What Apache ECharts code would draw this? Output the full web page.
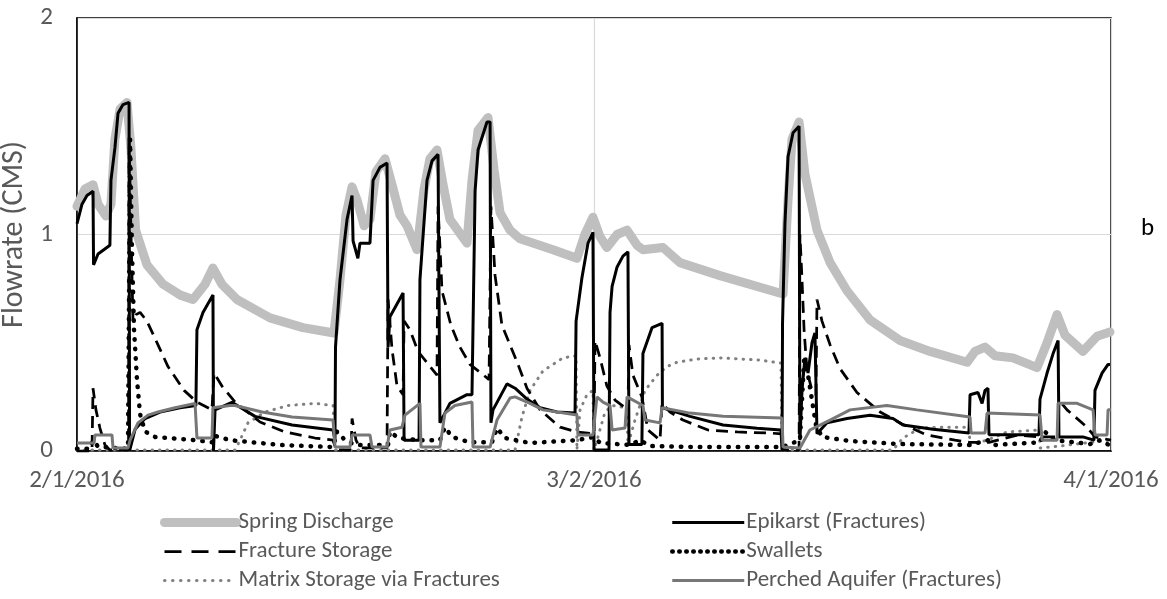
<!DOCTYPE html>
<html>
<head>
<meta charset="utf-8">
<script src="https://cdn.jsdelivr.net/npm/echarts@6/dist/echarts.min.js"></script>
<style>html,body{margin:0;padding:0;background:#fff;}#c{width:1167px;height:599px;}</style>
</head>
<body>
<div id="c"></div>
<script>
// x = days since 2/1/2016, y = flowrate (CMS)
var tickLabels = ['2/1/2016', '3/2/2016', '4/1/2016'];

var springDischarge = [[0,1.13],[0.46,1.21],[0.93,1.23],[1.22,1.14],[1.68,1.085],[1.97,1.14],[2.2,1.44],[2.5,1.58],[2.9,1.61],[3.13,1.4],[3.4,1.02],[4.06,0.86],[5.0,0.77],[6.0,0.72],[6.73,0.70],[7.43,0.77],[7.89,0.845],[8.41,0.77],[9.28,0.70],[11.2,0.615],[13.11,0.57],[14.91,0.545],[15.26,0.79],[15.61,1.09],[15.96,1.22],[16.25,1.16],[16.66,1.04],[17.0,1.07],[17.35,1.29],[17.87,1.35],[18.28,1.23],[18.74,1.09],[19.15,1.04],[19.73,0.93],[20.14,1.21],[20.48,1.35],[20.89,1.39],[21.24,1.23],[21.64,1.07],[22.63,0.96],[22.92,1.25],[23.27,1.48],[23.85,1.54],[24.2,1.30],[24.55,1.10],[25.13,1.02],[25.71,0.98],[27.62,0.93],[29.01,0.89],[29.47,1.0],[29.94,1.08],[30.35,0.99],[30.75,0.94],[31.34,1.0],[31.92,1.02],[32.5,0.95],[32.84,0.93],[34.0,0.94],[34.99,0.87],[37.31,0.81],[40.97,0.725],[41.26,1.16],[41.49,1.44],[41.9,1.52],[42.24,1.28],[42.94,1.02],[43.7,0.87],[44.68,0.74],[46.02,0.605],[47.76,0.51],[49.5,0.46],[51.65,0.41],[52.11,0.46],[52.69,0.48],[53.27,0.44],[54.31,0.43],[55.71,0.385],[56.29,0.50],[56.87,0.63],[57.33,0.535],[58.37,0.46],[59.19,0.53],[59.94,0.55]];

var epikarst = [[0,1.05],[0.29,1.14],[0.58,1.18],[0.93,1.20],[0.96,0.86],[1.22,0.91],[1.91,0.95],[1.97,1.25],[2.2,1.40],[2.38,1.56],[2.67,1.60],[3.02,1.61],[3.05,0],[3.37,0.10],[3.95,0.15],[4.82,0.18],[5.98,0.20],[6.9,0.21],[6.96,0.56],[7.31,0.64],[7.89,0.72],[7.92,0],[8.01,0.19],[8.99,0.225],[10.33,0.16],[12.48,0.12],[14.86,0.097],[14.97,0.05],[15.0,0.48],[15.26,0.79],[15.67,1.07],[15.96,1.18],[16.02,0.97],[16.3,0.89],[16.42,0.96],[17.0,0.96],[17.18,1.25],[17.58,1.31],[17.99,1.33],[18.05,0.48],[18.16,0.62],[18.92,0.73],[18.98,0.05],[19.85,0.05],[19.9,0.79],[20.31,1.25],[20.6,1.34],[20.95,1.37],[21.06,0.13],[21.64,0.22],[22.63,0.26],[22.92,0.26],[23.1,1.2],[23.27,1.39],[23.79,1.52],[23.97,1.52],[24.02,0.13],[24.14,0.19],[24.95,0.31],[25.42,0.29],[26.11,0.24],[26.87,0.20],[27.85,0.18],[28.9,0.175],[28.96,0.6],[29.3,0.8],[29.65,0.96],[29.94,1.01],[30.0,0.005],[30.87,0.005],[30.93,0.64],[31.05,0.76],[31.34,0.85],[31.68,0.9],[31.97,0.92],[32.03,0.03],[32.78,0.03],[32.84,0.45],[33.37,0.57],[33.95,0.59],[33.97,0.2],[35.57,0.16],[37.49,0.12],[39.46,0.105],[40.85,0.097],[40.91,0.005],[40.94,0.59],[41.08,1.05],[41.26,1.36],[41.55,1.47],[41.9,1.5],[41.95,0.05],[42.07,0.28],[42.24,0.43],[42.42,0.36],[42.65,0.5],[42.82,0.545],[42.94,0.08],[43.52,0.13],[44.68,0.15],[46.02,0.165],[47.35,0.15],[47.93,0.12],[49.67,0.1],[51.76,0.083],[51.82,0.26],[52.28,0.27],[52.52,0.22],[52.69,0.28],[52.86,0.29],[52.92,0.075],[55.82,0.075],[55.88,0.24],[56.29,0.36],[56.64,0.45],[56.93,0.51],[56.98,0.065],[58.37,0.065],[59.01,0.05],[59.07,0.28],[59.48,0.36],[59.83,0.40],[59.94,0.40]];

var fractureStorage = [[0,0],[0.87,0],[0.93,0.29],[1.1,0.19],[1.33,0.106],[1.62,0.028],[1.91,0.005],[2.99,0.005],[3.02,1.45],[3.13,1.02],[3.25,0.6],[3.42,0.63],[3.66,0.64],[4.06,0.6],[4.7,0.49],[5.28,0.39],[6.21,0.28],[6.96,0.226],[7.83,0.19],[7.95,0.36],[8.41,0.3],[9.17,0.226],[10.62,0.134],[12.07,0.088],[13.81,0.06],[14.86,0.05],[15.03,0.005],[15.9,0.005],[15.96,0.15],[16.19,0.05],[16.42,0.014],[17.99,0.014],[18.05,0.7],[18.28,0.47],[18.57,0.3],[18.92,0.26],[18.98,0.6],[19.32,0.56],[19.79,0.46],[20.89,0.35],[20.95,1.13],[21.18,0.74],[21.7,0.58],[22.22,0.48],[22.8,0.4],[23.91,0.33],[24.02,1.13],[24.26,0.81],[24.66,0.58],[25.13,0.49],[25.59,0.4],[26.11,0.29],[26.87,0.19],[28.03,0.11],[29.01,0.088],[30.0,0.079],[30.06,0.51],[30.35,0.43],[30.75,0.3],[31.22,0.235],[31.97,0.19],[32.03,0.49],[32.26,0.35],[32.78,0.25],[33.13,0.097],[33.83,0.05],[33.95,0.22],[34.41,0.18],[35.16,0.143],[36.62,0.097],[38.3,0.088],[40.21,0.083],[40.91,0.079],[40.97,0.005],[41.9,0.005],[41.95,1.0],[42.07,0.79],[42.19,0.56],[42.36,0.37],[42.65,0.28],[42.88,0.26],[42.94,0.7],[43.23,0.6],[43.7,0.49],[44.28,0.38],[45.26,0.27],[46.6,0.18],[47.87,0.125],[49.32,0.074],[50.95,0.05],[51.76,0.04],[52.92,0.04],[54.61,0.074],[55.88,0.065],[56.93,0.065],[56.98,0.235],[57.45,0.19],[58.61,0.11],[59.07,0.065],[60,0.05]];

var swallets = [[0,0.01],[0.75,0.01],[0.93,0.05],[1.22,0.02],[2.96,0.01],[3.08,1.44],[3.19,0.93],[3.31,0.56],[3.48,0.33],[3.66,0.17],[3.95,0.09],[4.53,0.065],[6.85,0.05],[7.89,0.04],[8.01,0.07],[8.88,0.05],[11.78,0.028],[14.86,0.018],[15.09,0.09],[15.55,0.05],[16.13,0.028],[18.05,0.028],[18.16,0.09],[18.63,0.06],[19.9,0.05],[21.06,0.05],[21.35,0.11],[21.76,0.065],[22.8,0.04],[24.08,0.04],[24.37,0.106],[24.84,0.06],[26.29,0.037],[29.01,0.05],[30.0,0.065],[30.35,0.037],[32.09,0.028],[32.67,0.05],[33.25,0.023],[36.15,0.018],[40.91,0.018],[41.95,0.05],[42.19,0.42],[42.42,0.35],[42.65,0.235],[42.88,0.12],[43.23,0.065],[44.86,0.046],[47.76,0.032],[51.82,0.028],[52.86,0.05],[53.27,0.028],[55.88,0.04],[56.17,0.088],[56.75,0.05],[58.78,0.032],[59.36,0.05],[60,0.023]];

var matrixStorage = [[0,0.005],[9.17,0.005],[9.46,0.05],[9.92,0.13],[10.91,0.18],[12.24,0.21],[13.81,0.22],[14.86,0.21],[14.97,0.005],[25.42,0.005],[25.82,0.157],[26.29,0.28],[27.04,0.37],[28.2,0.43],[28.96,0.44],[29.01,0.005],[29.19,0.19],[29.59,0.26],[29.94,0.28],[30.0,0.005],[30.23,0.065],[30.64,0.18],[31.05,0.21],[31.9,0.2],[31.97,0.028],[32.38,0.143],[32.96,0.28],[33.66,0.35],[34.24,0.39],[34.82,0.41],[35.98,0.425],[37.31,0.43],[39.63,0.42],[40.85,0.406],[40.91,0.005],[47.35,0.005],[47.93,0.06],[48.92,0.106],[50.25,0.11],[51.76,0.11],[51.82,0.028],[52.81,0.05],[53.97,0.088],[55.82,0.097],[55.88,0.014],[57.04,0.023],[58.78,0.04],[60,0.05]];

var perchedAquifer = [[0,0.037],[0.99,0.037],[1.04,0.074],[2.03,0.074],[2.09,0.014],[2.96,0.014],[3.08,0.05],[3.54,0.13],[4.12,0.166],[4.7,0.18],[5.69,0.2],[6.85,0.22],[6.96,0.06],[7.83,0.06],[7.89,0.2],[8.88,0.21],[9.17,0.21],[10.74,0.18],[12.48,0.157],[14.86,0.143],[14.97,0.018],[15.84,0.018],[15.96,0.074],[17.0,0.074],[17.12,0.018],[17.99,0.018],[18.16,0.097],[18.86,0.11],[19.03,0.166],[19.9,0.22],[19.96,0.018],[21.06,0.018],[21.35,0.175],[21.93,0.21],[22.92,0.226],[22.98,0.018],[23.97,0.018],[24.37,0.143],[25.13,0.245],[25.42,0.25],[26.29,0.22],[27.04,0.19],[29.01,0.166],[29.07,0.074],[29.94,0.074],[30.17,0.25],[30.52,0.226],[30.93,0.21],[31.05,0.097],[31.8,0.106],[31.92,0.25],[32.84,0.21],[32.96,0.143],[33.83,0.13],[33.95,0.2],[35.57,0.175],[37.49,0.16],[40.91,0.152],[40.97,0.018],[41.95,0.014],[42.53,0.097],[43.7,0.143],[44.86,0.19],[47.0,0.21],[48.74,0.19],[51.82,0.157],[51.88,0.083],[52.69,0.083],[52.81,0.175],[55.88,0.166],[56.0,0.05],[56.87,0.05],[56.93,0.22],[58.03,0.22],[58.96,0.19],[59.07,0.074],[59.77,0.074],[59.83,0.19],[60,0.19]];

var FONT = 'Carlito, Lato, "Open Sans", sans-serif';
var chart = echarts.init(document.getElementById('c'), null, {renderer: 'canvas'});

var styles = {
  'Spring Discharge': {color: '#bfbfbf', width: 9, cap: 'round', join: 'round'},
  'Matrix Storage via Fractures': {color: '#808080', width: 3, type: [0.5, 7], cap: 'round'},
  'Swallets': {color: '#000000', width: 4.5, type: [0.5, 9], cap: 'round'},
  'Fracture Storage': {color: '#000000', width: 2.75, type: [12, 7]},
  'Epikarst (Fractures)': {color: '#000000', width: 3},
  'Perched Aquifer (Fractures)': {color: '#777777', width: 3}
};
var legendDash = {
  'Fracture Storage': [17, 10],
  'Swallets': [0.5, 6.5],
  'Matrix Storage via Fractures': [0.5, 7.5]
};

function lineSeries(name, data, z) {
  var st = styles[name];
  return {
    name: name, type: 'line', data: data, showSymbol: false, symbol: 'none',
    smooth: false, z: z, animation: false, color: st.color,
    itemStyle: {color: st.color},
    lineStyle: st
  };
}

function legendItems(names) {
  return names.map(function (n) {
    var st = styles[n];
    var ls = {color: st.color, width: st.width, type: legendDash[n] || st.type || 'solid', cap: st.cap || 'butt'};
    return {name: n, lineStyle: ls, itemStyle: {opacity: 0}};
  });
}

var legendBase = {
  orient: 'vertical', top: 511, padding: 0, itemGap: 6, itemWidth: 72, itemHeight: 18,
  itemStyle: {opacity: 0},
  textStyle: {color: '#595959', fontSize: 23, lineHeight: 23, fontFamily: FONT, padding: [0, 0, 0, -3]}
};

chart.setOption({
  animation: false,
  backgroundColor: '#fff',
  grid: {left: 77, right: 56, top: 18, bottom: 148, containLabel: false, outerBoundsMode: 'none',
         show: true, borderColor: '#000', borderWidth: 1.5, backgroundColor: 'transparent'},
  xAxis: {
    type: 'value', min: 0, max: 60, interval: 30,
    axisLine: {show: true, lineStyle: {color: '#000', width: 1.5}},
    axisTick: {show: false},
    splitLine: {show: true, lineStyle: {color: '#d9d9d9', width: 1.2}},
    axisLabel: {
      color: '#595959', fontSize: 25, fontFamily: FONT, margin: 17,
      showMinLabel: true, showMaxLabel: true,
      formatter: function (v) { return tickLabels[Math.round(v / 30)]; }
    }
  },
  yAxis: {
    type: 'value', min: 0, max: 2, interval: 1,
    name: 'Flowrate (CMS)', nameLocation: 'middle', nameGap: 37,
    nameTextStyle: {color: '#595959', fontSize: 30, fontFamily: FONT},
    axisLine: {show: true, lineStyle: {color: '#000', width: 1.5}},
    axisTick: {show: false},
    splitLine: {show: true, lineStyle: {color: '#d9d9d9', width: 1.2}},
    axisLabel: {color: '#595959', fontSize: 25, fontFamily: FONT, margin: 24}
  },
  legend: [
    Object.assign({}, legendBase, {left: 160, data: legendItems(['Spring Discharge', 'Fracture Storage', 'Matrix Storage via Fractures'])}),
    Object.assign({}, legendBase, {left: 670, data: legendItems(['Epikarst (Fractures)', 'Swallets', 'Perched Aquifer (Fractures)'])})
  ],
  graphic: [{
    type: 'text', left: 1141, top: 216,
    style: {text: 'b', fill: '#000', font: '25px ' + FONT}
  }],
  series: [
    lineSeries('Spring Discharge', springDischarge, 1),
    lineSeries('Matrix Storage via Fractures', matrixStorage, 2),
    lineSeries('Swallets', swallets, 3),
    lineSeries('Fracture Storage', fractureStorage, 4),
    lineSeries('Epikarst (Fractures)', epikarst, 5),
    lineSeries('Perched Aquifer (Fractures)', perchedAquifer, 6)
  ]
});
</script>
</body>
</html>
